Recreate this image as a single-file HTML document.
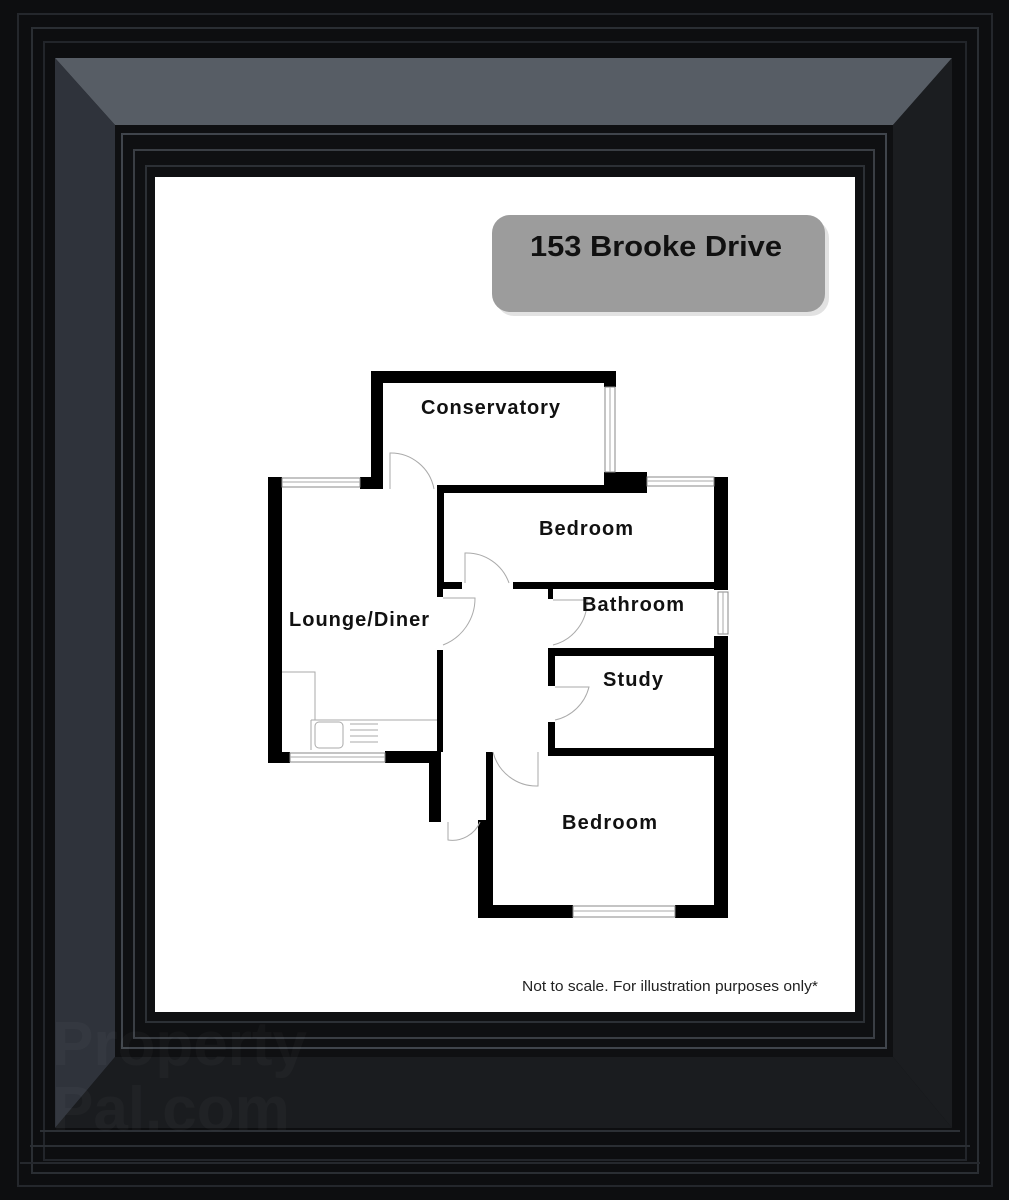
<!DOCTYPE html>
<html><head><style>
html,body{margin:0;padding:0;background:#0d0e10;}
svg{display:block}
</style></head><body>
<svg width="1009" height="1200" viewBox="0 0 1009 1200" xmlns="http://www.w3.org/2000/svg">
<rect width="1009" height="1200" fill="#0d0e10"/>
<rect x="18" y="14" width="974" height="1172" fill="none" stroke="#24272c" stroke-width="2"/>
<rect x="32" y="28" width="946" height="1145" fill="none" stroke="#2a2e33" stroke-width="2"/>
<rect x="44" y="42" width="922" height="1118" fill="none" stroke="#22252a" stroke-width="2"/>
<polygon points="55,58 952,58 893,125 115,125" fill="#575d65"/>
<polygon points="55,58 115,125 115,1057 55,1128" fill="#2f333b"/>
<polygon points="952,58 952,1128 893,1057 893,125" fill="#1b1d20"/>
<polygon points="55,1128 952,1128 893,1057 115,1057" fill="#1a1c1f"/>
<rect x="40" y="1130" width="920" height="2" fill="#2c3035"/>
<rect x="30" y="1145" width="940" height="2" fill="#2a2e33"/>
<rect x="20" y="1162" width="960" height="2" fill="#25282d"/>
<rect x="115" y="125" width="778" height="932" fill="#0f1012"/>
<rect x="122" y="134" width="764" height="914" fill="none" stroke="#40454c" stroke-width="2"/>
<rect x="134" y="150" width="740" height="888" fill="none" stroke="#3a3e44" stroke-width="2"/>
<rect x="146" y="166" width="718" height="856" fill="none" stroke="#2c3035" stroke-width="2"/>
<rect x="155" y="177" width="700" height="835" fill="#ffffff"/>

<rect x="496" y="220" width="333" height="96" rx="18" fill="#cfcfcf" opacity="0.6"/>
<rect x="492" y="215" width="333" height="97" rx="18" fill="#9c9c9c"/>
<text x="530" y="256" textLength="252" lengthAdjust="spacingAndGlyphs" font-family="Liberation Sans, sans-serif" font-weight="bold" font-size="29" fill="#111">153 Brooke Drive</text>

<g fill="#000">
<rect x="371" y="371" width="245" height="12"/>
<rect x="371" y="371" width="12" height="117"/>
<rect x="360" y="477" width="23" height="12"/>
<rect x="604" y="371" width="12" height="16"/>
<rect x="604" y="472" width="43" height="16"/>
<rect x="437" y="485" width="210" height="8"/>
<rect x="714" y="477" width="14" height="113"/>
<rect x="714" y="636" width="14" height="282"/>
<rect x="268" y="477" width="14" height="286"/>
<rect x="268" y="752" width="22" height="11"/>
<rect x="385" y="751" width="56" height="12"/>
<rect x="429" y="751" width="12" height="71"/>
<rect x="437" y="485" width="7" height="100"/>
<rect x="437" y="582" width="25" height="7"/>
<rect x="513" y="582" width="215" height="7"/>
<rect x="437" y="589" width="6" height="8"/>
<rect x="437" y="650" width="6" height="102"/>
<rect x="548" y="589" width="5" height="10"/>
<rect x="548" y="648" width="180" height="8"/>
<rect x="548" y="656" width="7" height="30"/>
<rect x="548" y="722" width="7" height="34"/>
<rect x="548" y="748" width="180" height="8"/>
<rect x="486" y="752" width="7" height="166"/>
<rect x="478" y="820" width="15" height="98"/>
<rect x="478" y="905" width="95" height="13"/>
<rect x="675" y="905" width="53" height="13"/>
</g>
<g fill="#fff" stroke="#888" stroke-width="1">
<rect x="282" y="478" width="78" height="9"/>
<rect x="605" y="387" width="10" height="85"/>
<rect x="647" y="477" width="67" height="9"/>
<rect x="718" y="592" width="10" height="42"/>
<rect x="290" y="753" width="95" height="9"/>
<rect x="573" y="906" width="102" height="11"/>
</g>
<g stroke="#aaa" stroke-width="1" fill="none">
<line x1="282" y1="482" x2="360" y2="482"/>
<line x1="610" y1="387" x2="610" y2="472"/>
<line x1="647" y1="481" x2="714" y2="481"/>
<line x1="723" y1="592" x2="723" y2="634"/>
<line x1="290" y1="757" x2="385" y2="757"/>
<line x1="573" y1="911" x2="675" y2="911"/>
<path d="M390 489 L390 453 A44 44 0 0 1 434 489"/>
<path d="M465 583 L465 553 A45 45 0 0 1 509 583"/>
<path d="M443 598 L475 598 A50 50 0 0 1 443 645"/>
<path d="M553 645 A45 45 0 0 0 587 600 L553 600"/>
<path d="M555 720 A45 45 0 0 0 589 687 L555 687"/>
<path d="M493 752 A45 45 0 0 0 538 786 L538 752"/>
<path d="M448 822 L448 840 A30 30 0 0 0 480 822"/>
<path d="M282 672 L315 672 L315 720"/>
<path d="M311 720 L437 720 M311 720 L311 750"/>
<rect x="315" y="722" width="28" height="26" rx="4"/>
<path d="M350 724 L378 724 M350 730 L378 730 M350 736 L378 736 M350 742 L378 742"/>
</g>

<g font-family="Liberation Sans, sans-serif" font-weight="bold" font-size="20" fill="#111" lengthAdjust="spacingAndGlyphs">
<text x="421" y="414" textLength="139">Conservatory</text>
<text x="539" y="535" textLength="94">Bedroom</text>
<text x="289" y="626" textLength="140">Lounge/Diner</text>
<text x="582" y="611" textLength="102">Bathroom</text>
<text x="603" y="686" textLength="60">Study</text>
<text x="562" y="829" textLength="95">Bedroom</text>
</g>
<text x="522" y="991" textLength="296" lengthAdjust="spacingAndGlyphs" font-family="Liberation Sans, sans-serif" font-size="15" fill="#222">Not to scale. For illustration purposes only*</text>

<g font-family="Liberation Sans, sans-serif" font-weight="bold" font-size="62" fill="#ffffff" opacity="0.025">
<text x="52" y="1065">Property</text>
<text x="52" y="1130">Pal.com</text>
</g>
</svg>
</body></html>
